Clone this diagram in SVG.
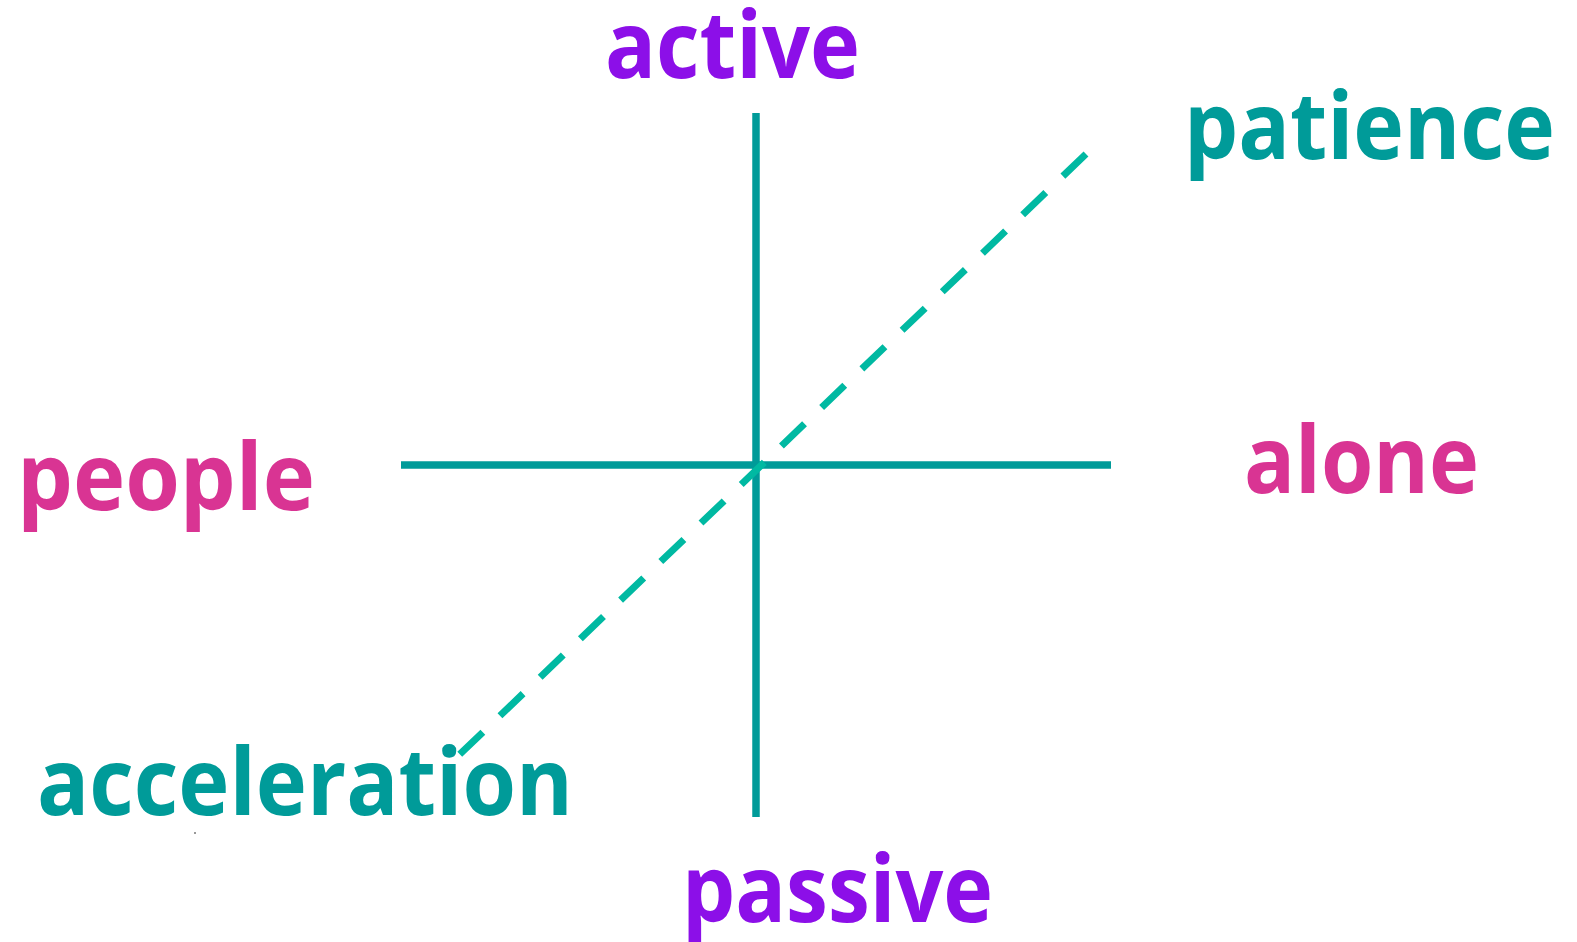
<svg xmlns="http://www.w3.org/2000/svg" width="1577" height="942" viewBox="0 0 1577 942">
<style>
.lbl{font-family:"Open Sans",Lato,"Liberation Sans",sans-serif;font-weight:700;font-size:94px;font-variant-ligatures:none;font-feature-settings:"liga" 0}
.purple{fill:#8C0FE8}
.pink{fill:#D93493}
.teal{fill:#009B99}
.axis{stroke:#009B99;stroke-width:7.5;fill:none}
.diag{stroke:#00B9A2;stroke-width:7;fill:none;stroke-dasharray:32 23.7}
</style>
<rect width="1577" height="942" fill="#FFFFFF"/>
<g id="connectors">
<line class="axis" x1="756" y1="113" x2="756" y2="817"/>
<line class="axis" x1="401" y1="465" x2="1111" y2="465"/>
<line class="diag" x1="1086" y1="154" x2="458" y2="756"/>
</g>
<g id="active"><text class="lbl purple" x="605" y="78" textLength="255" lengthAdjust="spacingAndGlyphs">active</text></g>
<g id="passive"><text class="lbl purple" x="682" y="922" textLength="311" lengthAdjust="spacingAndGlyphs">passive</text></g>
<g id="people"><text class="lbl pink" x="17" y="510" textLength="298" lengthAdjust="spacingAndGlyphs">people</text></g>
<g id="alone"><text class="lbl pink" x="1244" y="493" textLength="235" lengthAdjust="spacingAndGlyphs">alone</text></g>
<g id="patience"><text class="lbl teal" x="1184" y="159" textLength="371" lengthAdjust="spacingAndGlyphs">patience</text></g>
<g id="acceleration"><text class="lbl teal" x="37" y="815" textLength="536" lengthAdjust="spacingAndGlyphs">acceleration</text></g>
<circle cx="195" cy="833" r="1" fill="#777777"/>
</svg>
